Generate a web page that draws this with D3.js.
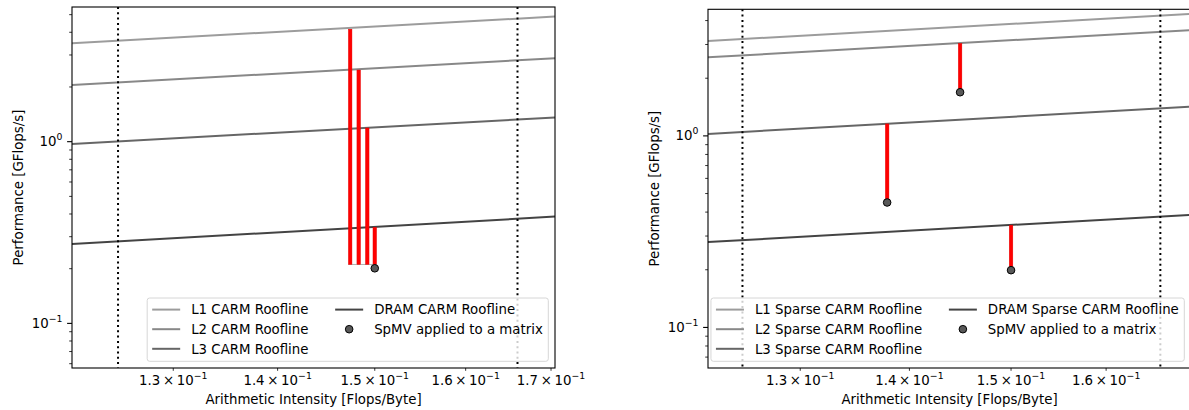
<!DOCTYPE html>
<html><head><meta charset="utf-8">
<script src="https://cdn.jsdelivr.net/npm/d3@7"></script>
<style>body{margin:0;background:#fff}svg{display:block}text{font-family:"DejaVu Sans",sans-serif;fill:#000}</style>
</head><body><svg id="c" width="1189" height="410"></svg>
<script>
// ---------- data ----------
const roofNamesLeft = ["L1 CARM Roofline", "L2 CARM Roofline", "L3 CARM Roofline", "DRAM CARM Roofline"];
const roofNamesRight = ["L1 Sparse CARM Roofline", "L2 Sparse CARM Roofline", "L3 Sparse CARM Roofline", "DRAM Sparse CARM Roofline"];
const pointLabel = "SpMV applied to a matrix";
const roofColors = ["#9c9c9c", "#888888", "#666666", "#444444"];
const roofAILeft = [0.12098, 0.17048];
const roofPerfLeftStart = [3.48, 2.05, 0.971, 0.2735];
const roofPerfLeftEnd = [4.88, 2.88, 1.36, 0.387];
const roofAIRight = [0.12211, 0.16949];
const roofPerfRightStart = [3.13, 2.57, 1.024, 0.279];
const roofPerfRightEnd = [4.34, 3.57, 1.42, 0.387];
const boundAI = [0.125, 0.166];
const barAILeft = [0.1474, 0.1483, 0.1492, 0.1500];
const barTopLeft = [4.16, 2.48, 1.19, 0.338];
const barBottomLeft = [0.211, 0.211, 0.211, 0.211];
const pointAILeft = [0.1500];
const pointPerfLeft = [0.201];
const pointAIRight = [0.1379, 0.1449, 0.1500];
const pointPerfRight = [0.449, 1.69, 0.199];
const barTopRight = [1.155, 3.04, 0.342];
const xTickValues = [0.13, 0.14, 0.15, 0.16, 0.17];
const xTickMantissa = ["1.3", "1.4", "1.5", "1.6", "1.7"];
const yMajorValues = [1, 0.1];
const yMajorExp = ["0", "\u22121"];
const xLabel = "Arithmetic Intensity [Flops/Byte]";
const yLabel = "Performance [GFlops/s]";

// ---------- layout ----------
const svg = d3.select("#c");
const FS = 13.33;

function drawPanel(p) {
  const x = d3.scaleLog().domain(p.xDomain).range([p.left, p.right]);
  const y = d3.scaleLog().domain(p.yDomain).range([p.bottom, p.top]);
  const g = svg.append("g");
  const clipId = "clip" + p.id;
  g.append("clipPath").attr("id", clipId).append("rect")
    .attr("x", p.left).attr("y", p.top).attr("width", p.right - p.left).attr("height", p.bottom - p.top);
  const plot = g.append("g").attr("clip-path", `url(#${clipId})`);

  // rooflines
  p.names.forEach((n, i) => {
    plot.append("line")
      .attr("x1", x(p.roofAI[0])).attr("y1", y(p.roofStart[i]))
      .attr("x2", x(p.roofAI[1])).attr("y2", y(p.roofEnd[i]))
      .attr("stroke", roofColors[i]).attr("stroke-width", 2);
  });
  // bounds
  boundAI.forEach(b => {
    plot.append("line").attr("x1", x(b)).attr("x2", x(b)).attr("y1", p.top).attr("y2", p.bottom)
      .attr("stroke", "#000").attr("stroke-width", 2).attr("stroke-dasharray", "2,3.3");
  });
  // bars
  if (p.barBottomLine) {
    plot.append("line")
      .attr("x1", x(p.barAI[0]) - 1.8).attr("x2", x(p.barAI[p.barAI.length - 1]) + 1.8)
      .attr("y1", y(p.barBottom[0])).attr("y2", y(p.barBottom[0]))
      .attr("stroke", "#b0b0b0").attr("stroke-width", 1);
  }
  p.barAI.forEach((a, i) => {
    plot.append("rect").attr("x", x(a) - 1.8).attr("width", 3.6)
      .attr("y", y(p.barTop[i])).attr("height", y(p.barBottom[i]) - y(p.barTop[i]))
      .attr("fill", "#ff0000").attr("stroke", "#e00000").attr("stroke-width", 0.4);
  });
  // points
  p.ptAI.forEach((a, i) => {
    plot.append("circle").attr("cx", x(a)).attr("cy", y(p.ptPerf[i])).attr("r", 3.8)
      .attr("fill", "#585858").attr("stroke", "#000").attr("stroke-width", 1);
  });

  // frame
  g.append("rect").attr("x", p.left).attr("y", p.top).attr("width", p.right - p.left).attr("height", p.bottom - p.top)
    .attr("fill", "none").attr("stroke", "#000").attr("stroke-width", 1.1);

  // y ticks
  const yt = y.ticks().filter(v => v >= p.yDomain[0] && v <= p.yDomain[1]);
  yt.forEach(v => {
    const isMajor = yMajorValues.some(m => Math.abs(m - v) / m < 1e-6);
    g.append("line").attr("x1", p.left).attr("x2", p.left - (isMajor ? 4.9 : 2.8))
      .attr("y1", y(v)).attr("y2", y(v)).attr("stroke", "#000").attr("stroke-width", isMajor ? 1.1 : 0.8);
  });
  yMajorValues.forEach((v, i) => {
    const t = g.append("text").attr("x", p.left - 9.5).attr("y", y(v) + 4.5)
      .attr("text-anchor", "end").attr("font-size", FS);
    t.append("tspan").text("10");
    t.append("tspan").text(yMajorExp[i]).attr("font-size", FS * 0.7).attr("dy", -6);
  });
  // x ticks
  xTickValues.forEach((v, i) => {
    if (v < p.xDomain[0] || v > p.xDomain[1]) return;
    const xv = x(v);
    g.append("line").attr("x1", xv).attr("x2", xv).attr("y1", p.bottom).attr("y2", p.bottom + 2.8)
      .attr("stroke", "#000").attr("stroke-width", 0.8);
    const t = g.append("text").attr("x", xv).attr("y", p.bottom + 17)
      .attr("text-anchor", "middle").attr("font-size", FS);
    t.append("tspan").text(xTickMantissa[i] + "\u2009\u00d7\u200910");
    t.append("tspan").text("\u22121").attr("font-size", FS * 0.7).attr("dy", -6);
  });
  // axis labels
  g.append("text").attr("x", (p.left + p.right) / 2).attr("y", p.bottom + 36)
    .attr("text-anchor", "middle").attr("font-size", FS).text(xLabel);
  g.append("text").attr("transform", `translate(${p.left - 49},${(p.top + p.bottom) / 2}) rotate(-90)`)
    .attr("text-anchor", "middle").attr("font-size", FS).text(yLabel);

  // legend
  const lg = g.append("g");
  const frame = lg.append("rect");
  const rows = [11.6, 31.2, 50.8];
  const col1 = lg.append("g");
  const widths1 = [];
  p.names.slice(0, 3).forEach((n, i) => {
    col1.append("line").attr("x1", 5).attr("x2", 33).attr("y1", rows[i]).attr("y2", rows[i])
      .attr("stroke", roofColors[i]).attr("stroke-width", 2);
    const t = col1.append("text").attr("x", 44).attr("y", rows[i] + 4.8).attr("font-size", FS).text(n);
    widths1.push(t.node().getComputedTextLength());
  });
  const c2 = 44 + d3.max(widths1) + 26.7;
  const widths2 = [];
  lg.append("line").attr("x1", c2).attr("x2", c2 + 28).attr("y1", rows[0]).attr("y2", rows[0])
    .attr("stroke", roofColors[3]).attr("stroke-width", 2);
  let t = lg.append("text").attr("x", c2 + 39).attr("y", rows[0] + 4.8).attr("font-size", FS).text(p.names[3]);
  widths2.push(t.node().getComputedTextLength());
  lg.append("circle").attr("cx", c2 + 14).attr("cy", rows[1]).attr("r", 3.8)
    .attr("fill", "#585858").attr("stroke", "#000").attr("stroke-width", 1);
  t = lg.append("text").attr("x", c2 + 39).attr("y", rows[1] + 4.8).attr("font-size", FS).text(pointLabel);
  widths2.push(t.node().getComputedTextLength());
  const W = c2 + 39 + d3.max(widths2) + 5.5;
  const H = 63.3;
  frame.attr("x", 0).attr("y", 0).attr("width", W).attr("height", H).attr("rx", 2.5)
    .attr("fill", "#fff").attr("fill-opacity", 0.8).attr("stroke", "#d6d6d6").attr("stroke-width", 1);
  lg.attr("transform", `translate(${p.right - 6.7 - W},${p.bottom - 6.7 - H})`);
}

drawPanel({
  id: "L", left: 72, right: 555, top: 7, bottom: 368,
  xDomain: [0.12098, 0.17048], yDomain: [0.05682, 5.51],
  names: roofNamesLeft, roofAI: roofAILeft, roofStart: roofPerfLeftStart, roofEnd: roofPerfLeftEnd,
  barAI: barAILeft, barTop: barTopLeft, barBottom: barBottomLeft, barBottomLine: true,
  ptAI: pointAILeft, ptPerf: pointPerfLeft
});
drawPanel({
  id: "R", left: 708, right: 1191, top: 9.3, bottom: 368,
  xDomain: [0.12211, 0.16949], yDomain: [0.0614, 4.58],
  names: roofNamesRight, roofAI: roofAIRight, roofStart: roofPerfRightStart, roofEnd: roofPerfRightEnd,
  barAI: pointAIRight, barTop: barTopRight, barBottom: pointPerfRight, barBottomLine: false,
  ptAI: pointAIRight, ptPerf: pointPerfRight
});
</script></body></html>
